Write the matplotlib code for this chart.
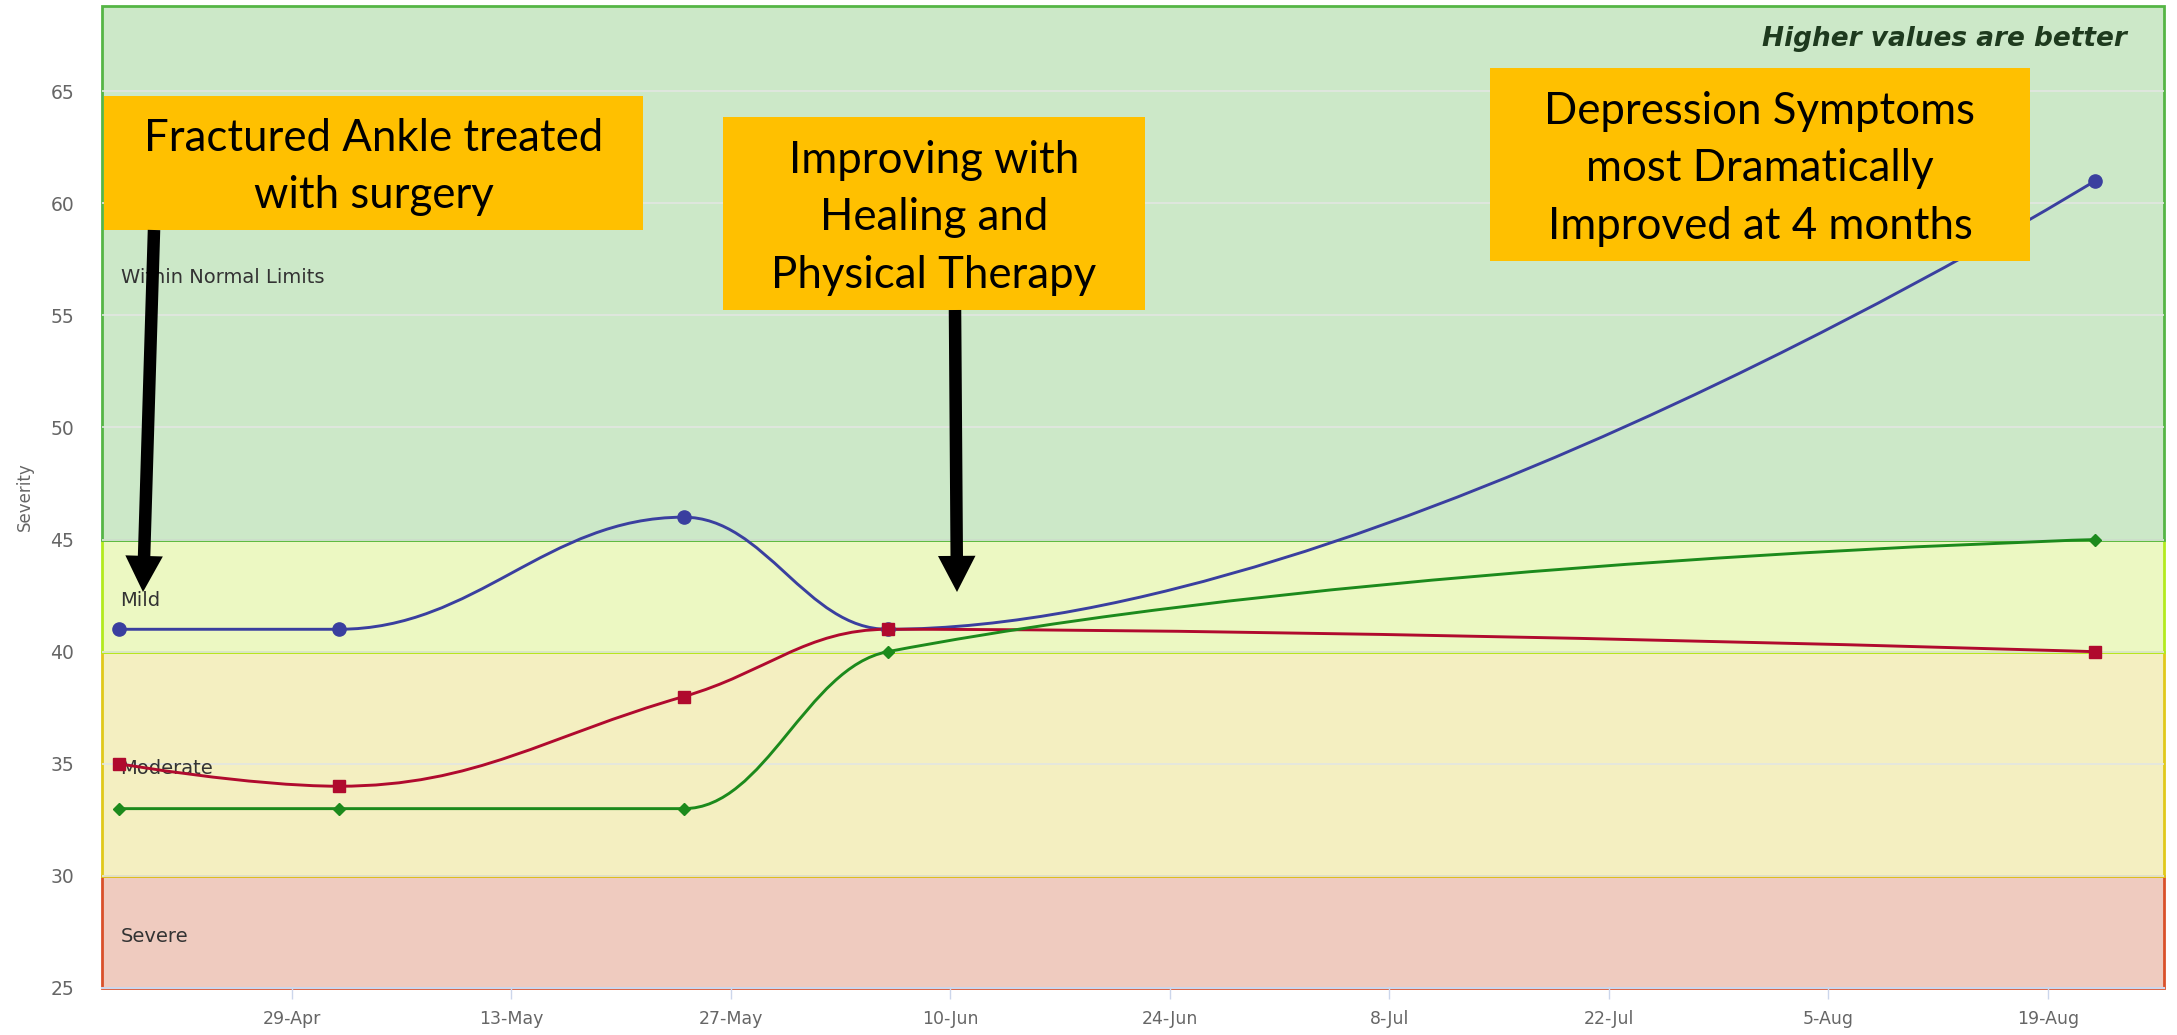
import numpy as np
import matplotlib.pyplot as plt
import matplotlib.dates as mdates
import matplotlib.transforms as mtransforms
from matplotlib.path import Path
from matplotlib.patches import PathPatch, Rectangle, FancyArrowPatch

# visit dates and scores for the three measures
visit_dates = ["2015-04-18", "2015-05-02", "2015-05-24", "2015-06-06", "2015-08-22"]
blue_values = [41, 41, 46, 41, 61]
red_values = [35, 34, 38, 41, 40]
green_values = [33, 33, 33, 40, 45]

tick_dates = ["2015-04-29", "2015-05-13", "2015-05-27", "2015-06-10", "2015-06-24",
              "2015-07-08", "2015-07-22", "2015-08-05", "2015-08-19"]
tick_labels = ["29-Apr", "13-May", "27-May", "10-Jun", "24-Jun",
               "8-Jul", "22-Jul", "5-Aug", "19-Aug"]
y_ticks = [25, 30, 35, 40, 45, 50, 55, 60, 65]

band_names = ["Severe", "Moderate", "Mild", "Within Normal Limits"]
band_lows = [25, 30, 40, 45]
band_highs = [30, 40, 45, 68.8]
band_fills = ["#efcbbf", "#f4efc1", "#ecf8c2", "#cce8c8"]
band_edges = ["#d9502a", "#e0c81a", "#b2ea1e", "#55b545"]

notes = ["Fractured Ankle treated\nwith surgery",
         "Improving with\nHealing and\nPhysical Therapy",
         "Depression Symptoms\nmost Dramatically\nImproved at 4 months"]


def spline_path(xs, ys, smoothing=1.5):
    # same smoothing idea as highcharts' spline series
    n = len(xs)
    denom = smoothing + 1
    left = [None] * n
    right = [None] * n
    for i in range(1, n - 1):
        lx = (smoothing * xs[i] + xs[i - 1]) / denom
        ly = (smoothing * ys[i] + ys[i - 1]) / denom
        rx = (smoothing * xs[i] + xs[i + 1]) / denom
        ry = (smoothing * ys[i] + ys[i + 1]) / denom
        if rx != lx:
            corr = (ry - ly) * (rx - xs[i]) / (rx - lx) + ys[i] - ry
            ly += corr
            ry += corr
        if ly > ys[i - 1] and ly > ys[i]:
            ly = max(ys[i - 1], ys[i])
            ry = 2 * ys[i] - ly
        elif ly < ys[i - 1] and ly < ys[i]:
            ly = min(ys[i - 1], ys[i])
            ry = 2 * ys[i] - ly
        if ry > ys[i + 1] and ry > ys[i]:
            ry = max(ys[i + 1], ys[i])
            ly = 2 * ys[i] - ry
        elif ry < ys[i + 1] and ry < ys[i]:
            ry = min(ys[i + 1], ys[i])
            ly = 2 * ys[i] - ry
        left[i] = (lx, ly)
        right[i] = (rx, ry)
    verts = [(xs[0], ys[0])]
    codes = [Path.MOVETO]
    for i in range(1, n):
        c1 = right[i - 1] if right[i - 1] else (xs[i - 1], ys[i - 1])
        c2 = left[i] if left[i] else (xs[i], ys[i])
        verts += [c1, c2, (xs[i], ys[i])]
        codes += [Path.CURVE4] * 3
    return Path(verts, codes)


x = mdates.datestr2num(visit_dates)
ticks_x = mdates.datestr2num(tick_dates)

fig = plt.figure(figsize=(21.77, 10.35), dpi=100)
ax = fig.add_axes([102 / 2177, 1 - 988 / 1035, 2062 / 2177, 982 / 1035])

x0 = ticks_x[0] - 12.1
x1 = ticks_x[0] + 119.4
ax.set_xlim(x0, x1)
ax.set_ylim(band_lows[0], band_highs[-1])

band_tr = mtransforms.blended_transform_factory(ax.transAxes, ax.transData)
for name, lo, hi, fc, ec in zip(band_names, band_lows, band_highs, band_fills, band_edges):
    ax.add_patch(Rectangle((x0, lo), x1 - x0, hi - lo, facecolor=fc, edgecolor=ec,
                           linewidth=2, zorder=1, clip_on=False))
    ax.text(0.009, (lo + hi) / 2 - 0.2, name, transform=band_tr,
            fontsize=14, color="#333333", va="center", ha="left", zorder=3)

ax.set_axisbelow("line")
ax.grid(axis="y", color="#e2e6e2", linewidth=1.2)
ax.grid(axis="x", visible=False)

series = [(blue_values, "#3a3f9f", "o", 9.5),
          (red_values, "#b00a2e", "s", 9),
          (green_values, "#1c8a1c", "D", 6.5)]
for vals, col, mk, ms in series:
    ax.add_patch(PathPatch(spline_path(list(x), list(vals)), fill=False, edgecolor=col,
                           linewidth=2.1, zorder=4))
    ax.plot(x, vals, linestyle="none", marker=mk, markersize=ms, color=col, zorder=5)

ax.set_yticks(y_ticks)
ax.set_yticklabels([str(v) for v in y_ticks])
ax.set_xticks(ticks_x)
ax.set_xticklabels(tick_labels)
ax.tick_params(axis="y", length=0, pad=20, labelsize=13.5, labelcolor="#666666")
ax.tick_params(axis="x", length=8, width=1, color="#ccd6eb", pad=8, labelsize=12.5, labelcolor="#666666")
for s in ["top", "left", "right"]:
    ax.spines[s].set_visible(False)
ax.spines["bottom"].set_color("#ccd6eb")
ax.spines["bottom"].set_linewidth(1.5)
ax.set_ylabel("Severity", fontsize=12, color="#666666", labelpad=12)

ax.text(0.982, 0.966, "Higher values are better", transform=ax.transAxes, ha="right", va="center",
        fontsize=19, fontweight="bold", fontstyle="italic", color="#1e3a1e", zorder=6)

# orange call-out boxes (pixel positions of the original)
boxes = [(104, 96, 643, 230), (723, 117, 1145, 310), (1490, 68, 2030, 261)]
for (l, t, r, b), txt in zip(boxes, notes):
    fig.patches.append(Rectangle((l / 2177, 1 - b / 1035), (r - l) / 2177, (b - t) / 1035,
                                 transform=fig.transFigure, facecolor="#ffc000", edgecolor="none", zorder=10))
    fig.text((l + r) / 2 / 2177, 1 - (t + b) / 2 / 1035 - 0.004, txt, ha="center", va="center",
             fontsize=31.5, family="Lato", color="black", linespacing=1.5, zorder=11)

arrows = [((154, 230), (143, 592)), ((955, 310), (957, 592))]
for (tx, ty), (hx, hy) in arrows:
    fig.add_artist(FancyArrowPatch(
        (tx / 2177, 1 - ty / 1035), (hx / 2177, 1 - hy / 1035), transform=fig.transFigure,
        arrowstyle="simple,head_length=26,head_width=27,tail_width=9", mutation_scale=1,
        color="black", linewidth=0, shrinkA=0, shrinkB=0, zorder=12))

fig.savefig("out.png", dpi=100)
